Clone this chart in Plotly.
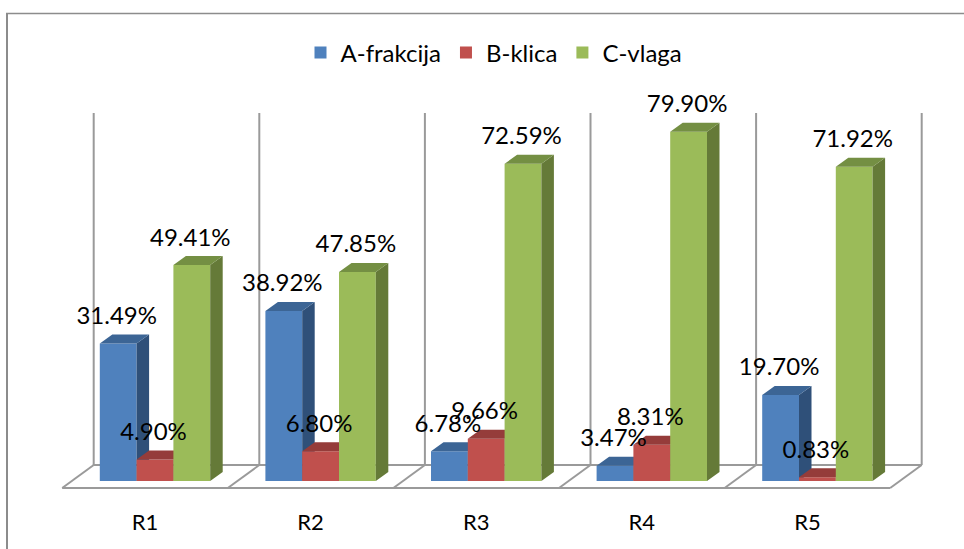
import plotly.graph_objects as go

categories = ["R1", "R2", "R3", "R4", "R5"]
a_frakcija = [31.49, 38.92, 6.78, 3.47, 19.70]
b_klica = [4.90, 6.80, 9.66, 8.31, 0.83]
c_vlaga = [49.41, 47.85, 72.59, 79.90, 71.92]

W, H = 964, 549
PX_X0, PX_UNIT = 145.0, 165.6      # pixel of category 0, pixels per category
PX_Y0, PX_PCT = 481.0, 4.37        # pixel of 0 %, pixels per 1 %
x_range = [-PX_X0 / PX_UNIT, (W - PX_X0) / PX_UNIT]
y_range = [(PX_Y0 - H) / PX_PCT, PX_Y0 / PX_PCT]
bar_w = 36.8 / PX_UNIT
group_off = 10 / PX_UNIT
dx, dy = 12.5 / PX_UNIT, 9 / PX_PCT
label_up = 25.5 / PX_PCT

series = [
    ("A-frakcija", a_frakcija, "#4F81BD", "#2F5079", "#3C6595", -1, "x", "y"),
    ("B-klica", b_klica, "#C0504D", "#8A3634", "#953C3A", 0, "x2", "y2"),
    ("C-vlaga", c_vlaga, "#9BBB59", "#657A38", "#748F43", 1, "x3", "y3"),
]

fig = go.Figure()
xs_idx = list(range(len(categories)))
label_x, label_y, label_t = [], [], []
for name, vals, col, side, top, pos, xa, ya in series:
    centers = [i + group_off + pos * bar_w for i in xs_idx]
    fig.add_trace(go.Bar(x=centers, y=vals, width=bar_w, name=name, xaxis=xa, yaxis=ya,
                         marker=dict(color=col, line=dict(width=0)), hoverinfo="skip"))
    sx, sy, tx, ty = [], [], [], []
    for c, v in zip(centers, vals):
        x0, x1 = c - bar_w / 2, c + bar_w / 2
        sx += [x1, x1 + dx, x1 + dx, x1, x1, None]
        sy += [0, dy, v + dy, v, 0, None]
        tx += [x0, x1, x1 + dx, x0 + dx, x0, None]
        ty += [v, v, v + dy, v + dy, v, None]
        label_x.append(c - 1.5 / PX_UNIT)
        label_y.append(v + label_up)
        label_t.append(f"{v:.2f}%")
    for px_, py_, color in ((sx, sy, side), (tx, ty, top)):
        fig.add_trace(go.Scatter(x=px_, y=py_, mode="lines", fill="toself", fillcolor=color,
                                 line=dict(width=0, color=color), showlegend=False,
                                 hoverinfo="skip", xaxis=xa, yaxis=ya))

fig.add_trace(go.Scatter(x=label_x, y=label_y, text=label_t, mode="text", showlegend=False,
                         textposition="middle center", hoverinfo="skip", xaxis="x3", yaxis="y3",
                         textfont=dict(family="Lato", size=24, color="#000000")))

# Chart furniture: floor and back walls
GRID = "#9A9A9A"
floor_front = -7 / PX_PCT
floor_back = 16 / PX_PCT
wall_top = 368 / PX_PCT
depth_x = 31.5 / PX_UNIT
shapes = []
for k in range(len(categories) + 1):
    xf = k - 0.5
    shapes.append(dict(type="line", x0=xf, x1=xf + depth_x, y0=floor_front, y1=floor_back,
                       xref="x", yref="y", layer="below", line=dict(color=GRID, width=2)))
    shapes.append(dict(type="line", x0=xf + depth_x, x1=xf + depth_x, y0=floor_back, y1=wall_top,
                       xref="x", yref="y", layer="below", line=dict(color=GRID, width=2)))
for yy, off in ((floor_front, 0), (floor_back, depth_x)):
    shapes.append(dict(type="line", x0=-0.5 + off, x1=len(categories) - 0.5 + off, y0=yy, y1=yy,
                       xref="x", yref="y", layer="below", line=dict(color=GRID, width=2)))
# outer chart frame (left and top edges)
shapes.append(dict(type="line", xref="paper", yref="paper", x0=7 / W, x1=7 / W, y0=0, y1=1 - 13 / H,
                   line=dict(color="#8C8C8C", width=2), layer="below"))
shapes.append(dict(type="line", xref="paper", yref="paper", x0=6 / W, x1=1, y0=1 - 13.5 / H, y1=1 - 13.5 / H,
                   line=dict(color="#8C8C8C", width=1.5), layer="below"))

hidden = dict(visible=False, fixedrange=True)
fig.update_layout(
    width=W, height=H, autosize=False, margin=dict(l=0, r=0, t=0, b=0),
    paper_bgcolor="white", plot_bgcolor="rgba(0,0,0,0)", shapes=shapes, barmode="overlay",
    showlegend=True,
    legend=dict(orientation="h", x=494 / W, xanchor="center", y=1 - 53 / H, yanchor="middle",
                font=dict(family="Lato", size=24, color="#000000"), itemwidth=30,
                bgcolor="rgba(0,0,0,0)"),
    xaxis=dict(range=x_range, tickmode="array", tickvals=xs_idx, ticktext=categories,
               showgrid=False, zeroline=False, showline=False, ticks="", fixedrange=True,
               anchor="free", position=(H - 507) / H,
               tickfont=dict(family="Lato", size=22, color="#000000")),
    yaxis=dict(range=y_range, **hidden),
    xaxis2=dict(range=x_range, overlaying="x", **hidden),
    yaxis2=dict(range=y_range, overlaying="y", **hidden),
    xaxis3=dict(range=x_range, overlaying="x", **hidden),
    yaxis3=dict(range=y_range, overlaying="y", **hidden),
)

fig.write_html("out.html", config={"displayModeBar": False},
               post_script="document.body.style.margin='0';")
